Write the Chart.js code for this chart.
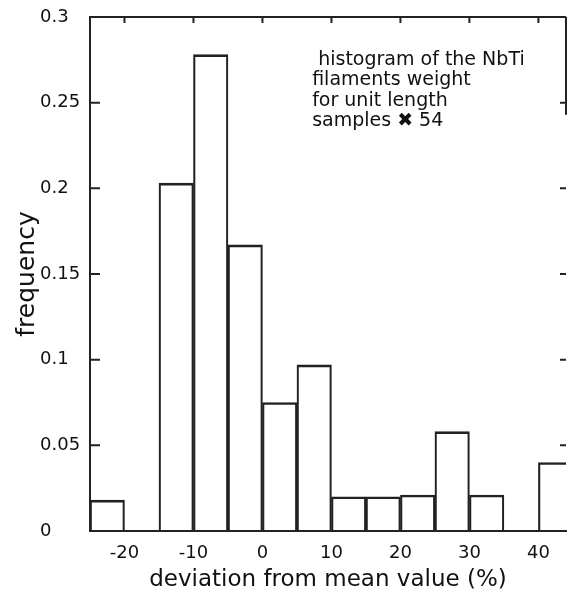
<!DOCTYPE html>
<html>
<head>
<meta charset="utf-8">
<script src="https://cdn.jsdelivr.net/npm/chart.js@4.4.1/dist/chart.umd.min.js"></script>
<style>
  html, body { margin: 0; padding: 0; background: #fff; }
</style>
</head>
<body>
<canvas id="histChart" width="568" height="592"></canvas>
<script>
// bin centres (% deviation, bins are 5 % wide) and relative frequency of each bin
const binCenters = [-22.5, -12.5, -7.5, -2.5, 2.5, 7.5, 12.5, 17.5, 22.5, 27.5, 32.5, 42.5];
const frequency  = [0.018, 0.203, 0.278, 0.167, 0.075, 0.097, 0.020, 0.020, 0.021, 0.058, 0.021, 0.040];

// axis ticks
const xTickValues = [-20, -10, 0, 10, 20, 30, 40];
const yTickValues = [0, 0.05, 0.1, 0.15, 0.2, 0.25, 0.3];
const yTickLabels = ["0", "0.05", "0.1", "0.15", "0.2", "0.25", "0.3"];

// text block in the upper right
const noteLines = [" histogram of the NbTi", "filaments weight", "for unit length", "samples \u2716 54"];

const ink = "#222";
Chart.defaults.font.family = "'DejaVu Sans', sans-serif";
Chart.defaults.color = "#111";

// top/right frame, inward tick marks and the note text
const framePlugin = {
    id: "frame",
    afterDatasetsDraw(chart) {
        const { ctx, chartArea: a, scales: { x, y } } = chart;
        ctx.save();
        ctx.strokeStyle = ink;
        ctx.lineWidth = 2;
        ctx.beginPath();
        ctx.moveTo(a.left - 1, a.top);
        ctx.lineTo(a.right, a.top);
        // right edge only shows near the top
        ctx.moveTo(a.right, a.top);
        ctx.lineTo(a.right, y.getPixelForValue(0.243));
        yTickValues.forEach(v => {
            const py = y.getPixelForValue(v);
            ctx.moveTo(a.left, py);
            ctx.lineTo(a.left + 10, py);
            ctx.moveTo(a.right - 6, py);
            ctx.lineTo(a.right, py);
        });
        xTickValues.forEach(v => {
            const px = x.getPixelForValue(v);
            ctx.moveTo(px, a.top);
            ctx.lineTo(px, a.top + 6);
        });
        ctx.stroke();

        ctx.fillStyle = "#111";
        ctx.font = "19px 'DejaVu Sans', sans-serif";
        ctx.textBaseline = "middle";
        const nx = x.getPixelForValue(7.2);
        const ny = y.getPixelForValue(0.275);
        noteLines.forEach((line, i) => ctx.fillText(line, nx, ny + i * 20.5));
        ctx.restore();
    }
};

const ctx = document.getElementById("histChart").getContext("2d");

new Chart(ctx, {
    type: "bar",
    data: {
        datasets: [{
            data: binCenters.map((c, i) => ({ x: c, y: frequency[i] })),
            backgroundColor: "rgba(255,255,255,0)",
            borderColor: ink,
            borderWidth: { top: 2, left: 1.5, right: 1.5, bottom: 0 },
            borderSkipped: "start",
            barPercentage: 1,
            categoryPercentage: 1
        }]
    },
    options: {
        responsive: false,
        animation: false,
        layout: { padding: { top: 17, right: 2, left: 40, bottom: 0 } },
        plugins: {
            legend: { display: false },
            tooltip: { enabled: false }
        },
        scales: {
            x: {
                type: "linear",
                offset: false,
                min: -25,
                max: 44,
                grid: { display: false },
                border: { display: true, color: ink, width: 2 },
                afterBuildTicks: scale => { scale.ticks = xTickValues.map(v => ({ value: v })); },
                afterFit: scale => { scale.height = 61; },
                ticks: {
                    padding: 4,
                    maxRotation: 0,
                    font: { size: 18 },
                    callback: v => String(v)
                },
                title: {
                    display: true,
                    text: "deviation from mean value (%)",
                    font: { size: 23, lineHeight: 1 },
                    padding: { top: 0, bottom: 0 }
                }
            },
            y: {
                min: 0,
                max: 0.3,
                grid: { display: false },
                border: { display: true, color: ink, width: 2 },
                afterBuildTicks: scale => { scale.ticks = yTickValues.map(v => ({ value: v })); },
                afterFit: scale => { scale.width = 50; },
                ticks: {
                    crossAlign: "far",
                    font: { size: 18 },
                    callback: (v, i) => yTickLabels[i]
                },
                title: {
                    display: true,
                    text: "frequency",
                    font: { size: 25, lineHeight: 1 },
                    padding: { top: -25, bottom: 0 }
                }
            }
        }
    },
    plugins: [framePlugin]
});
</script>
</body>
</html>
